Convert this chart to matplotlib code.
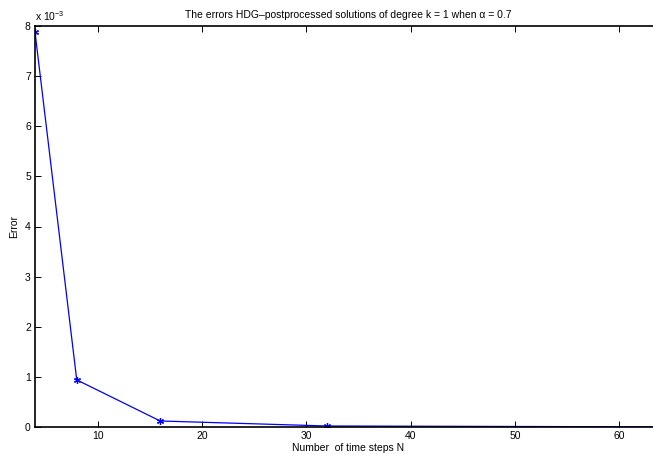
import numpy as np
import matplotlib
matplotlib.use("Agg")
from matplotlib import pyplot as plt
from matplotlib.ticker import FuncFormatter

plt.rcParams['font.family'] = ['Liberation Sans', 'DejaVu Sans']
plt.rcParams['mathtext.fontset'] = 'custom'
plt.rcParams['mathtext.rm'] = 'Liberation Sans'
plt.rcParams['mathtext.it'] = 'Liberation Sans:italic'

# number of time steps and the errors
steps = [4, 8, 16, 32, 64]
errors = [7.88e-3, 0.94e-3, 0.12e-3, 0.02e-3, 0.003e-3]

W, H = 653, 459
fig = plt.figure(figsize=(W / 100, H / 100), dpi=100)
# the right part of the box lies outside the picture, as in the original
ax = fig.add_axes([35 / W, (H - 427) / H, (661 - 35) / W, (427 - 26) / H])

# asterisk markers like matlab's '*-'
ax.plot(steps, errors, color='blue', linewidth=0.9, marker=(6, 2, 0),
        markersize=5, markeredgewidth=0.9)

ax.set_xlim(4, 64)
ax.set_ylim(0, 8e-3)
ax.set_xticks([10, 20, 30, 40, 50, 60])
ax.set_yticks(np.arange(0, 9) * 1e-3)
ax.yaxis.set_major_formatter(FuncFormatter(lambda v, p: '%g' % round(v * 1e3, 6)))

ax.tick_params(direction='in', length=4, width=0.7, labelsize=7.5,
               top=True, right=True, pad=3)
for s in ax.spines.values():
    s.set_linewidth(1.2)

ax.set_title('The errors HDG\u2013postprocessed solutions of degree k = 1 when \u03b1 = 0.7',
             fontsize=7.5, pad=6)
ax.set_xlabel('Number  of time steps N', fontsize=7.5, labelpad=1)
ax.set_ylabel('Error', fontsize=7.5, labelpad=4)
ax.text(0, 1.008, r'x 10$^{-3}$', transform=ax.transAxes, fontsize=7.5,
        ha='left', va='bottom')

fig.savefig('out.png', dpi=100)
